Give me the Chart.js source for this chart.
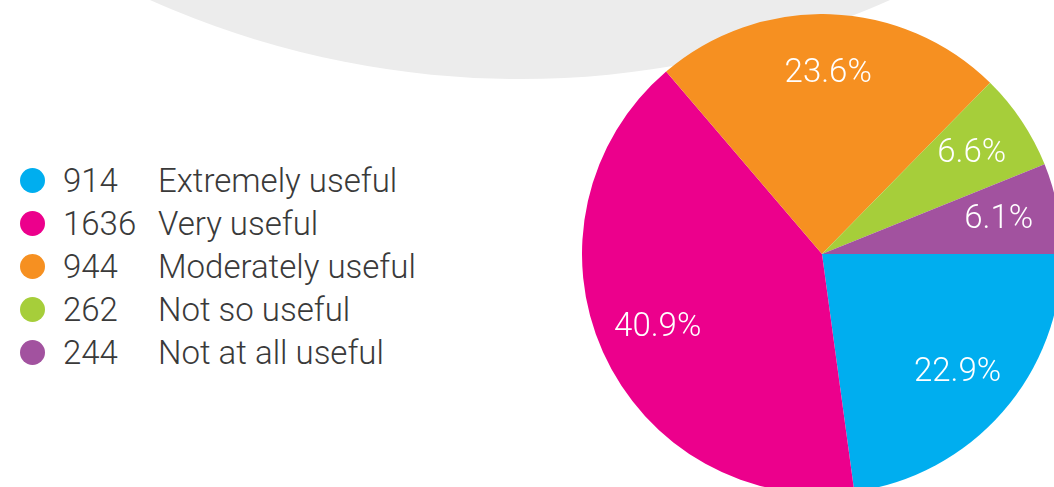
<!DOCTYPE html>
<html>
<head>
<meta charset="utf-8">
<script src="https://cdn.jsdelivr.net/npm/chart.js@4/dist/chart.umd.min.js"></script>
<style>
    html, body {
        margin: 0;
        padding: 0;
        width: 1054px;
        height: 487px;
        overflow: hidden;
        background: #ffffff;
        position: relative;
        font-family: Roboto, 'Open Sans', sans-serif;
        font-weight: 300;
    }
    .backdrop {
        position: absolute;
        left: -386px;
        top: -1733px;
        width: 1812px;
        height: 1812px;
        border-radius: 50%;
        background: #ececec;
    }
    .legend {
        position: absolute;
        left: 20px;
        top: 159px;
        color: #3a3a3a;
        font-size: 33px;
    }
    .legend-row {
        display: flex;
        align-items: center;
        height: 43px;
    }
    .legend-dot {
        width: 25px;
        height: 25px;
        border-radius: 50%;
        margin-right: 18px;
    }
    .legend-value {
        width: 95px;
    }
    .chart-box {
        position: absolute;
        left: 582px;
        top: 14px;
        width: 480px;
        height: 480px;
    }
</style>
</head>
<body>
<div class="backdrop"></div>
<div class="legend" id="legend"></div>
<div class="chart-box"><canvas id="pie"></canvas></div>
<script>
const CATEGORIES = ['Extremely useful', 'Very useful', 'Moderately useful', 'Not so useful', 'Not at all useful'];
const COUNTS = [914, 1636, 944, 262, 244];
const SLICE_COLORS = ['#00aeef', '#ec008c', '#f69021', '#a6ce3a', '#a2529f'];

function formatPercent(value, total) {
    return `${((value / total) * 100).toFixed(1)}%`;
}

function renderLegend() {
    const legend = document.getElementById('legend');
    legend.innerHTML = CATEGORIES.map((label, index) => `
        <div class="legend-row">
            <span class="legend-dot" style="background:${SLICE_COLORS[index]}"></span>
            <span class="legend-value">${COUNTS[index]}</span>
            <span class="legend-label">${label}</span>
        </div>`).join('');
}

// draws the percentage inside each slice
const sliceLabels = {
    id: 'sliceLabels',
    afterDatasetsDraw(chart) {
        const ctx = chart.ctx;
        const data = chart.data.datasets[0].data;
        const total = data.reduce((sum, value) => sum + value, 0);
        const meta = chart.getDatasetMeta(0);
        ctx.save();
        ctx.fillStyle = '#ffffff';
        ctx.font = '300 33px Roboto, "Open Sans", sans-serif';
        ctx.textAlign = 'center';
        ctx.textBaseline = 'middle';
        meta.data.forEach((arc, index) => {
            const props = arc.getProps(['x', 'y', 'startAngle', 'endAngle', 'outerRadius'], true);
            const mid = (props.startAngle + props.endAngle) / 2;
            const dist = props.outerRadius * 0.75;
            ctx.fillText(formatPercent(data[index], total),
                props.x + Math.cos(mid) * dist,
                props.y + Math.sin(mid) * dist);
        });
        ctx.restore();
    }
};

renderLegend();

new Chart(document.getElementById('pie'), {
    type: 'pie',
    data: {
        labels: CATEGORIES,
        datasets: [{
            data: COUNTS,
            backgroundColor: SLICE_COLORS,
            borderWidth: 0
        }]
    },
    options: {
        responsive: true,
        maintainAspectRatio: false,
        animation: false,
        rotation: 90,
        layout: { padding: 0 },
        plugins: {
            legend: { display: false },
            tooltip: { enabled: false }
        }
    },
    plugins: [sliceLabels]
});
</script>
</body>
</html>
